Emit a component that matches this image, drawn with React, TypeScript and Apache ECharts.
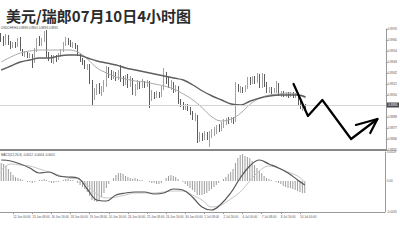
import React, { useEffect, useRef } from 'react';
import * as echarts from 'echarts';

// ---- labels ----
const chartTitle = '美元/瑞郎07月10日4小时图';
const symbolName = 'USDCHF,H4';
const macdName = 'MACD(12,26,9)';
const firstLabel = '11 Jun 2014';

// 4-hour sessions; the series starts at 11 Jun 04:00
const tradingDays = [
  '11 Jun', '12 Jun', '13 Jun', '16 Jun', '17 Jun', '18 Jun', '19 Jun', '20 Jun',
  '23 Jun', '24 Jun', '25 Jun', '26 Jun', '27 Jun', '30 Jun', '1 Jul', '2 Jul',
  '3 Jul', '4 Jul', '7 Jul', '8 Jul', '9 Jul', '10 Jul', '11 Jul', '14 Jul',
  '15 Jul', '16 Jul', '17 Jul',
];
const sessionHours = ['00:00', '04:00', '08:00', '12:00', '16:00', '20:00'];
const projectionSlots = 33;

// ---- price bars ----
const opens = [
  0.8969, 0.8965, 0.8961, 0.8967, 0.8962, 0.8958, 0.8961, 0.8959, 0.8965, 0.8955,
  0.8951, 0.8952, 0.8949, 0.8950, 0.8943, 0.8955, 0.8963, 0.8961, 0.8965, 0.8969,
  0.8949, 0.8947, 0.8945, 0.8948, 0.8946, 0.8950, 0.8954, 0.8961, 0.8965, 0.8962,
  0.8960, 0.8961, 0.8958, 0.8950, 0.8945, 0.8943, 0.8938, 0.8939, 0.8923, 0.8908,
  0.8913, 0.8917, 0.8913, 0.8915, 0.8920, 0.8935, 0.8933, 0.8929, 0.8931, 0.8927,
  0.8933, 0.8925, 0.8923, 0.8928, 0.8921, 0.8925, 0.8911, 0.8917, 0.8921, 0.8919,
  0.8922, 0.8920, 0.8922, 0.8905, 0.8910, 0.8908, 0.8911, 0.8909, 0.8917, 0.8931,
  0.8925, 0.8919, 0.8921, 0.8915, 0.8917, 0.8903, 0.8900, 0.8898, 0.8899, 0.8896,
  0.8892, 0.8887, 0.8889, 0.8865, 0.8869, 0.8867, 0.8871, 0.8868, 0.8870, 0.8872,
  0.8874, 0.8877, 0.8876, 0.8880, 0.8882, 0.8884, 0.8883, 0.8885, 0.8884, 0.8919,
  0.8915, 0.8916, 0.8914, 0.8917, 0.8925, 0.8923, 0.8926, 0.8924, 0.8929, 0.8919,
  0.8929, 0.8920, 0.8914, 0.8916, 0.8913, 0.8915, 0.8921, 0.8910, 0.8912, 0.8910,
  0.8911, 0.8909, 0.8911, 0.8909, 0.8910, 0.8901, 0.8898, 0.8899,
];
const closes = [
  0.8965, 0.8961, 0.8967, 0.8962, 0.8958, 0.8961, 0.8959, 0.8965, 0.8955, 0.8951,
  0.8952, 0.8949, 0.8950, 0.8943, 0.8955, 0.8963, 0.8961, 0.8965, 0.8969, 0.8949,
  0.8947, 0.8945, 0.8948, 0.8946, 0.8950, 0.8954, 0.8961, 0.8965, 0.8962, 0.8960,
  0.8961, 0.8958, 0.8950, 0.8945, 0.8943, 0.8938, 0.8939, 0.8923, 0.8908, 0.8913,
  0.8917, 0.8913, 0.8915, 0.8920, 0.8935, 0.8933, 0.8929, 0.8931, 0.8927, 0.8933,
  0.8925, 0.8923, 0.8928, 0.8921, 0.8925, 0.8911, 0.8917, 0.8921, 0.8919, 0.8922,
  0.8920, 0.8922, 0.8905, 0.8910, 0.8908, 0.8911, 0.8909, 0.8917, 0.8931, 0.8925,
  0.8919, 0.8921, 0.8915, 0.8917, 0.8903, 0.8900, 0.8898, 0.8899, 0.8896, 0.8892,
  0.8887, 0.8889, 0.8865, 0.8869, 0.8867, 0.8871, 0.8868, 0.8870, 0.8872, 0.8874,
  0.8877, 0.8876, 0.8880, 0.8882, 0.8884, 0.8883, 0.8885, 0.8884, 0.8919, 0.8915,
  0.8916, 0.8914, 0.8917, 0.8925, 0.8923, 0.8926, 0.8924, 0.8929, 0.8919, 0.8929,
  0.8920, 0.8914, 0.8916, 0.8913, 0.8915, 0.8921, 0.8910, 0.8912, 0.8910, 0.8911,
  0.8909, 0.8911, 0.8909, 0.8910, 0.8901, 0.8898, 0.8899, 0.8895,
];
const highs = [
  0.8972, 0.8969, 0.8971, 0.8970, 0.8964, 0.8963, 0.8963, 0.8967, 0.8968, 0.8956,
  0.8954, 0.8953, 0.8952, 0.8951, 0.8957, 0.8967, 0.8969, 0.8967, 0.8974, 0.8975,
  0.8953, 0.8950, 0.8950, 0.8950, 0.8952, 0.8956, 0.8963, 0.8968, 0.8967, 0.8965,
  0.8963, 0.8962, 0.8960, 0.8951, 0.8947, 0.8945, 0.8941, 0.8941, 0.8925, 0.8917,
  0.8921, 0.8922, 0.8919, 0.8925, 0.8939, 0.8938, 0.8935, 0.8934, 0.8933, 0.8935,
  0.8940, 0.8929, 0.8930, 0.8931, 0.8929, 0.8927, 0.8921, 0.8925, 0.8923, 0.8926,
  0.8924, 0.8925, 0.8924, 0.8915, 0.8913, 0.8914, 0.8913, 0.8919, 0.8937, 0.8933,
  0.8928, 0.8925, 0.8923, 0.8920, 0.8919, 0.8906, 0.8903, 0.8901, 0.8901, 0.8898,
  0.8894, 0.8892, 0.8890, 0.8873, 0.8872, 0.8874, 0.8873, 0.8874, 0.8876, 0.8878,
  0.8880, 0.8881, 0.8883, 0.8886, 0.8887, 0.8888, 0.8888, 0.8888, 0.8923, 0.8921,
  0.8919, 0.8918, 0.8920, 0.8928, 0.8928, 0.8929, 0.8929, 0.8932, 0.8931, 0.8932,
  0.8931, 0.8923, 0.8918, 0.8918, 0.8917, 0.8924, 0.8922, 0.8914, 0.8914, 0.8913,
  0.8913, 0.8913, 0.8913, 0.8912, 0.8912, 0.8904, 0.8901, 0.8901,
];
const lows = [
  0.8963, 0.8959, 0.8960, 0.8960, 0.8956, 0.8957, 0.8957, 0.8958, 0.8954, 0.8949,
  0.8948, 0.8947, 0.8947, 0.8937, 0.8942, 0.8953, 0.8959, 0.8959, 0.8963, 0.8948,
  0.8944, 0.8942, 0.8941, 0.8943, 0.8945, 0.8948, 0.8953, 0.8959, 0.8960, 0.8958,
  0.8957, 0.8956, 0.8949, 0.8943, 0.8940, 0.8936, 0.8935, 0.8921, 0.8899, 0.8905,
  0.8910, 0.8911, 0.8909, 0.8913, 0.8918, 0.8927, 0.8925, 0.8926, 0.8924, 0.8925,
  0.8923, 0.8919, 0.8920, 0.8917, 0.8918, 0.8910, 0.8909, 0.8915, 0.8916, 0.8917,
  0.8917, 0.8918, 0.8897, 0.8904, 0.8906, 0.8907, 0.8907, 0.8908, 0.8915, 0.8921,
  0.8917, 0.8915, 0.8912, 0.8913, 0.8901, 0.8898, 0.8895, 0.8895, 0.8894, 0.8890,
  0.8885, 0.8884, 0.8862, 0.8863, 0.8864, 0.8865, 0.8865, 0.8858, 0.8867, 0.8869,
  0.8871, 0.8873, 0.8874, 0.8877, 0.8880, 0.8881, 0.8882, 0.8881, 0.8883, 0.8913,
  0.8912, 0.8912, 0.8913, 0.8916, 0.8920, 0.8921, 0.8921, 0.8922, 0.8917, 0.8917,
  0.8918, 0.8912, 0.8912, 0.8911, 0.8912, 0.8912, 0.8909, 0.8908, 0.8908, 0.8908,
  0.8907, 0.8908, 0.8907, 0.8907, 0.8899, 0.8896, 0.8894, 0.8893,
];

// ---- moving averages, read every fourth bar ----
const maBars = [
  0, 4, 8, 12, 16, 20, 24, 28, 32, 36, 40, 44, 48, 52, 56, 60, 64,
  68, 72, 76, 80, 84, 88, 92, 96, 100, 104, 108, 112, 116, 120, 124, 127,
];
const fastMA = [
  0.8943, 0.8948, 0.8952, 0.8954, 0.8955, 0.8955, 0.8955, 0.8955, 0.8953, 0.8946, 0.8937,
  0.8932, 0.8928, 0.8926, 0.8924, 0.8923, 0.8921, 0.8919, 0.8916, 0.8911, 0.8905, 0.8897,
  0.8888, 0.8884, 0.8886, 0.8892, 0.8901, 0.8907, 0.8910, 0.8911, 0.8912, 0.8910, 0.8907,
];
const slowMA = [
  0.8935, 0.8939, 0.8943, 0.8945, 0.8947, 0.8947, 0.8949, 0.8950, 0.8950, 0.8947, 0.8944,
  0.8942, 0.8940, 0.8937, 0.8935, 0.8933, 0.8931, 0.8929, 0.8927, 0.8925, 0.8920, 0.8914,
  0.8909, 0.8905, 0.8901, 0.8900, 0.8904, 0.8907, 0.8909, 0.8910, 0.8910, 0.8910, 0.8908,
];

// ---- MACD panel ----
const macdLine = [
  0.0021, 0.0020, 0.0017, 0.0013, 0.0008, 0.0009, 0.0005, 0.0004, 0.0003, -0.0008, -0.0019,
  -0.0020, -0.0014, -0.0012, -0.0011, -0.0011, -0.0013, -0.0012, -0.0008, -0.0009, -0.0016, -0.0026,
  -0.0029, -0.0023, -0.0012, 0.0003, 0.0015, 0.0021, 0.0017, 0.0013, 0.0008, 0.0001, -0.0004,
];
const signalLine = [
  0.0011, 0.0017, 0.0016, 0.0015, 0.0012, 0.0009, 0.0006, 0.0003, 0.0002, -0.0004, -0.0013,
  -0.0017, -0.0016, -0.0014, -0.0012, -0.0012, -0.0012, -0.0011, -0.0010, -0.0010, -0.0014, -0.0019,
  -0.0026, -0.0024, -0.0018, -0.0011, 0.0000, 0.0010, 0.0015, 0.0013, 0.0009, 0.0005, -0.0001,
];
const macdHist = [
  0.0018, 0.0017, 0.0015, 0.0012, 0.0009, 0.0006, 0.0004, 0.0003, 0.0002, 0.0001,
  0.0000, -0.0001, -0.0001, -0.0002, -0.0001, 0.0000, 0.0001, 0.0001, 0.0002, 0.0001,
  -0.0001, -0.0002, -0.0002, -0.0001, -0.0001, 0.0000, 0.0001, 0.0002, 0.0002, 0.0001,
  0.0001, 0.0000, -0.0002, -0.0004, -0.0006, -0.0008, -0.0011, -0.0015, -0.0019, -0.0020,
  -0.0021, -0.0019, -0.0016, -0.0012, -0.0007, -0.0003, 0.0000, 0.0003, 0.0006, 0.0008,
  0.0008, 0.0007, 0.0005, 0.0004, 0.0003, 0.0002, 0.0003, 0.0002, 0.0001, 0.0001,
  0.0000, 0.0000, -0.0001, -0.0002, -0.0002, -0.0003, -0.0003, -0.0002, 0.0000, 0.0003,
  0.0005, 0.0006, 0.0005, 0.0004, 0.0002, 0.0000, -0.0001, -0.0003, -0.0005, -0.0007,
  -0.0009, -0.0011, -0.0014, -0.0014, -0.0014, -0.0013, -0.0012, -0.0010, -0.0008, -0.0006,
  -0.0004, -0.0002, 0.0000, 0.0002, 0.0004, 0.0007, 0.0009, 0.0012, 0.0018, 0.0023,
  0.0026, 0.0027, 0.0025, 0.0024, 0.0023, 0.0020, 0.0016, 0.0013, 0.0010, 0.0008,
  0.0005, 0.0003, 0.0002, 0.0001, 0.0000, -0.0001, -0.0002, -0.0003, -0.0005, -0.0006,
  -0.0007, -0.0007, -0.0008, -0.0009, -0.0010, -0.0011, -0.0012, -0.0012,
];

// ---- projected path (bar slot, price) ----
const forecastPath = [
  [122, 0.8921], [128, 0.8889], [134, 0.8905], [146, 0.8866], [157, 0.8886],
];
const forecastHead = [[148, 0.8880], [157, 0.8886], [154, 0.8872]];

// ---- axis ranges ----
const priceMin = 0.8855;
const priceMax = 0.8976;
const priceStep = 0.0011;
const macdMin = -0.0031;
const macdMax = 0.0029;

const slots: string[] = [];
tradingDays.forEach((d) => sessionHours.forEach((h) => slots.push(`${d} ${h}`)));
const categories = slots.slice(1, 1 + opens.length + projectionSlots);

const last = opens.length - 1;
const candles = opens.map((o, i) => [o, closes[i], lows[i], highs[i]]);
const fastData = maBars.map((b, k) => [b, fastMA[k]]);
const slowData = maBars.map((b, k) => [b, slowMA[k]]);
const macdData = maBars.map((b, k) => [b, macdLine[k]]);
const signalData = maBars.map((b, k) => [b, signalLine[k]]);

const showTimeLabel = (i: number) =>
  i === 0 || (i >= 5 && i <= last && (i - 5) % 8 === 0);

const tiny = { fontSize: 3, color: '#555', fontFamily: 'Liberation Sans' };

const option: any = {
  animation: false,
  backgroundColor: '#ffffff',
  title: {
    text: chartTitle,
    left: 1,
    top: 3,
    textStyle: { fontSize: 15, fontWeight: 'bold', color: '#2b2b2b', fontFamily: 'Noto Sans CJK SC' },
  },
  graphic: [
    {
      type: 'text',
      left: 1,
      top: 26.5,
      style: {
        text: `${symbolName} ${opens[last].toFixed(4)} ${highs[last].toFixed(4)} ${lows[last].toFixed(4)} ${closes[last].toFixed(4)}`,
        fontSize: 3,
        fill: '#444',
        fontFamily: 'Liberation Sans',
      },
    },
    {
      type: 'text',
      left: 1,
      top: 153,
      style: {
        text: `${macdName} ${macdHist[last].toFixed(4)} ${macdLine[macdLine.length - 1].toFixed(4)} ${signalLine[signalLine.length - 1].toFixed(4)}`,
        fontSize: 3,
        fill: '#444',
        fontFamily: 'Liberation Sans',
      },
    },
  ],
  grid: [
    { left: 0, right: 12, top: 29, height: 121 },
    { left: 0, right: 12, top: 152, height: 60 },
  ],
  xAxis: [
    {
      type: 'category',
      gridIndex: 0,
      data: categories,
      boundaryGap: true,
      axisLine: { show: true, onZero: false, lineStyle: { color: '#888', width: 2 } },
      axisTick: { show: false },
      axisLabel: { show: false },
      splitLine: { show: false },
    },
    {
      type: 'category',
      gridIndex: 1,
      data: categories,
      boundaryGap: true,
      axisLine: { show: true, onZero: false, lineStyle: { color: '#999', width: 1 } },
      axisTick: { show: true, length: 2, alignWithLabel: true, interval: showTimeLabel, lineStyle: { color: '#999' } },
      axisLabel: {
        ...tiny,
        interval: showTimeLabel,
        align: 'left',
        margin: 3,
        formatter: (v: string, i: number) => (i === 0 ? firstLabel : v),
      },
      splitLine: { show: false },
    },
  ],
  yAxis: [
    {
      type: 'value',
      gridIndex: 0,
      position: 'right',
      min: priceMin,
      max: priceMax,
      interval: priceStep,
      axisLine: { show: true, lineStyle: { color: '#999', width: 1 } },
      axisTick: { show: true, length: 2, lineStyle: { color: '#999' } },
      axisLabel: { ...tiny, margin: 2, formatter: (v: number) => v.toFixed(4) },
      splitLine: { show: false },
    },
    {
      type: 'value',
      gridIndex: 1,
      position: 'right',
      min: macdMin,
      max: macdMax,
      splitNumber: 2,
      axisLine: { show: true, lineStyle: { color: '#999', width: 1 } },
      axisTick: { show: false },
      axisLabel: {
        ...tiny,
        margin: 2,
        showMinLabel: true,
        showMaxLabel: true,
        formatter: (v: number) => {
          if (Math.abs(v) < 1e-9) return '0.00';
          if (Math.abs(v - macdMax) < 1e-9 || Math.abs(v - macdMin) < 1e-9) return v.toFixed(4);
          return '';
        },
      },
      splitLine: { show: false },
    },
  ],
  series: [
    {
      type: 'candlestick',
      xAxisIndex: 0,
      yAxisIndex: 0,
      data: candles,
      barWidth: 1.3,
      itemStyle: {
        color: '#ffffff',
        color0: '#333333',
        borderColor: '#8a8a8a',
        borderColor0: '#333333',
        borderWidth: 0.8,
      },
      markLine: {
        silent: true,
        symbol: 'none',
        data: [{ yAxis: closes[last] }],
        lineStyle: { color: '#d4d4d4', width: 1, type: 'solid' },
        label: {
          position: 'end',
          distance: 1,
          formatter: closes[last].toFixed(4),
          fontSize: 3,
          color: '#fff',
          backgroundColor: '#4a4a4a',
          padding: [1, 1.5],
          fontFamily: 'Liberation Sans',
        },
      },
      z: 3,
    },
    {
      type: 'line',
      xAxisIndex: 0,
      yAxisIndex: 0,
      data: fastData,
      smooth: 0.4,
      symbol: 'none',
      lineStyle: { color: '#a8a8a8', width: 1 },
      z: 4,
    },
    {
      type: 'line',
      xAxisIndex: 0,
      yAxisIndex: 0,
      data: slowData,
      smooth: 0.4,
      symbol: 'none',
      lineStyle: { color: '#5e5e5e', width: 1.4 },
      z: 4,
    },
    {
      type: 'line',
      xAxisIndex: 0,
      yAxisIndex: 0,
      data: forecastPath,
      symbol: 'none',
      lineStyle: { color: '#000', width: 2.2, cap: 'round', join: 'round' },
      z: 10,
    },
    {
      type: 'line',
      xAxisIndex: 0,
      yAxisIndex: 0,
      data: forecastHead,
      symbol: 'none',
      lineStyle: { color: '#000', width: 2.2, cap: 'round', join: 'round' },
      z: 10,
    },
    {
      type: 'bar',
      xAxisIndex: 1,
      yAxisIndex: 1,
      data: macdHist,
      barWidth: 0.9,
      itemStyle: { color: '#9c9c9c' },
    },
    {
      type: 'line',
      xAxisIndex: 1,
      yAxisIndex: 1,
      data: signalData,
      smooth: 0.4,
      symbol: 'none',
      lineStyle: { color: '#c4c4c4', width: 1 },
      z: 4,
    },
    {
      type: 'line',
      xAxisIndex: 1,
      yAxisIndex: 1,
      data: macdData,
      smooth: 0.4,
      symbol: 'none',
      lineStyle: { color: '#555', width: 1.2 },
      z: 5,
    },
  ],
};

export default function App() {
  const ref = useRef<HTMLDivElement>(null);
  useEffect(() => {
    if (!ref.current) return;
    const chart = echarts.init(ref.current, undefined, { renderer: 'svg' });
    chart.setOption(option);
    return () => chart.dispose();
  }, []);
  return (
    <div
      ref={ref}
      style={{ position: 'fixed', left: 0, top: 0, width: 400, height: 247, background: '#fff' }}
    />
  );
}
